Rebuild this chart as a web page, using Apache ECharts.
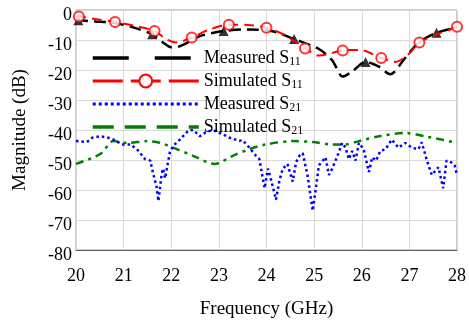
<!DOCTYPE html>
<html><head><meta charset="utf-8">
<script src="https://cdn.jsdelivr.net/npm/echarts@6/dist/echarts.min.js"></script>
<style>html,body{margin:0;padding:0;background:#fff}#c{width:469px;height:324px}</style>
</head><body><div id="c"></div>
<script>
// Measured S11 (black dashed)
const measS11X = [20, 20.05, 20.4, 20.8, 21.2, 21.6, 21.8, 22.0, 22.15, 22.35, 22.6, 23.1, 23.6, 24.1, 24.58, 25.1, 25.38, 25.6, 25.8, 26.08, 26.36, 26.6, 26.9, 27.2, 27.57, 28];
const measS11Y = [-3.2, -3.4, -3.8, -4.3, -5.8, -8.1, -10.5, -12.4, -12.2, -10.8, -8.7, -7.0, -6.5, -7.0, -9.7, -13, -16.8, -22.2, -20.5, -17.3, -18.9, -21.4, -16.2, -10.8, -7.6, -5.9];
// Measured S11 triangle markers
const measS11MkX = [20.05, 21.6, 23.1, 24.58, 26.08, 27.57];
const measS11MkY = [-3.4, -8.1, -7.0, -9.7, -17.3, -7.6];
// Simulated S11 (red dashed)
const simS11X = [20.0, 20.4, 20.82, 21.2, 21.65, 21.9, 22.1, 22.43, 22.8, 23.21, 23.6, 24.0, 24.4, 24.81, 25.1, 25.6, 25.95, 26.41, 26.7, 27.0, 27.21, 27.6, 28];
const simS11Y = [-2.0, -3.0, -4.0, -5.2, -7.0, -9.8, -10.8, -9.2, -6.5, -4.9, -5.0, -5.9, -8.5, -12.8, -15.2, -13.5, -13.3, -16.0, -17.3, -14.5, -10.8, -8.0, -5.6];
// Simulated S11 circle markers
const simS11MkX = [20.06, 20.82, 21.65, 22.43, 23.21, 24.0, 24.81, 25.6, 26.41, 27.21, 28.0];
const simS11MkY = [-2.2, -4.0, -7.0, -9.2, -4.9, -5.9, -12.8, -13.5, -16.0, -10.8, -5.6];
// Measured S21 (blue dotted)
const measS21X = [20.0, 20.23, 20.34, 20.51, 20.68, 20.82, 20.96, 21.14, 21.28, 21.45, 21.56, 21.62, 21.69, 21.73, 21.8, 21.83, 21.87, 21.9, 21.97, 22.04, 22.18, 22.36, 22.46, 22.6, 22.74, 22.88, 23.02, 23.23, 23.43, 23.5, 23.64, 23.78, 23.85, 23.96, 24.03, 24.07, 24.2, 24.27, 24.34, 24.44, 24.55, 24.62, 24.69, 24.76, 24.86, 24.97, 25.04, 25.1, 25.24, 25.31, 25.38, 25.49, 25.59, 25.66, 25.73, 25.8, 25.87, 25.94, 26.04, 26.15, 26.22, 26.3, 26.39, 26.5, 26.63, 26.77, 26.91, 27.05, 27.19, 27.26, 27.36, 27.47, 27.61, 27.71, 27.78, 27.88, 27.95, 28.0];
const measS21Y = [-43.7, -44, -42.6, -42.1, -42.6, -43.4, -44.8, -44.8, -46.4, -49.7, -50.2, -54.5, -58.8, -63.7, -54.5, -52.9, -56.1, -53.5, -47.5, -45.3, -43.2, -40.2, -40, -42.1, -40.6, -40, -41, -42.6, -43.6, -43.4, -45.9, -48.6, -49.7, -59.4, -52.9, -55, -63.2, -57, -52.9, -51.3, -57.2, -50.8, -48.6, -47.7, -55, -66.9, -59, -51.8, -49.1, -55, -52.9, -48.6, -44.3, -45.9, -49.7, -47, -50.2, -44.3, -46.4, -54, -49.1, -50.2, -47, -46.4, -43.2, -45.9, -44.3, -45.9, -46.4, -44.1, -49.7, -55, -52.4, -59.4, -50.2, -50.8, -51.8, -55];
// Simulated S21 (green dash-dot)
const simS21X = [20.0, 20.51, 20.79, 21.07, 21.49, 21.77, 22.04, 22.46, 22.91, 23.29, 23.64, 23.99, 24.55, 24.97, 25.38, 25.66, 25.94, 26.36, 26.91, 27.33, 28.0];
const simS21Y = [-51.3, -48, -43.7, -44.3, -43.7, -44.3, -45.9, -48.6, -51.3, -48.6, -46.4, -44.8, -43.7, -44, -44.8, -44.8, -43.7, -42.1, -41, -42.1, -44.3];

const xTicks = [20, 21, 22, 23, 24, 25, 26, 27, 28];
const yTicks = [0, -10, -20, -30, -40, -50, -60, -70, -80];
const seriesNames = ['Measured S11', 'Simulated S11', 'Measured S21', 'Simulated S21'];

const pairs = (xs, ys) => xs.map((x, i) => [x, ys[i]]);
const FONT = 'Liberation Serif';

const chart = echarts.init(document.getElementById('c'), null, {renderer: 'canvas'});
chart.setOption({
  animation: false,
  backgroundColor: '#fff',
  grid: {left: 76, right: 10, top: 10, bottom: 67, show: true, borderColor: '#9a9a9a', borderWidth: 1, containLabel: false},
  xAxis: {
    type: 'value', min: xTicks[0], max: xTicks[xTicks.length - 1], interval: 1,
    name: 'Frequency (GHz)', nameLocation: 'middle', nameGap: 50,
    nameTextStyle: {fontFamily: FONT, fontSize: 19, color: '#000'},
    axisLine: {show: true, onZero: false, lineStyle: {color: '#606060', width: 1}}, axisTick: {show: false},
    axisLabel: {fontFamily: FONT, fontSize: 18, color: '#000', margin: 17},
    splitLine: {show: true, lineStyle: {color: '#d9d9d9', width: 1}}
  },
  yAxis: {
    type: 'value', min: yTicks[yTicks.length - 1], max: yTicks[0], interval: 10,
    name: 'Magnitude (dB)', nameLocation: 'middle', nameGap: 46,
    nameTextStyle: {fontFamily: FONT, fontSize: 19, color: '#000'},
    axisLine: {show: false}, axisTick: {show: false},
    axisLabel: {fontFamily: FONT, fontSize: 18, color: '#000', margin: 4, verticalAlign: 'top', lineHeight: 10},
    splitLine: {show: true, lineStyle: {color: '#d9d9d9', width: 1}}
  },
  legend: {
    orient: 'vertical', left: 86, top: 43, itemWidth: 106, itemHeight: 16, itemGap: 3,
    data: [
      {name: seriesNames[0], itemStyle: {opacity: 0}, lineStyle: {type: [36, 26], width: 3.5}},
      {name: seriesNames[1], lineStyle: {type: [30, 8], width: 3}},
      {name: seriesNames[2], itemStyle: {opacity: 0}, lineStyle: {type: [3, 3], width: 3}},
      {name: seriesNames[3], itemStyle: {opacity: 0}, lineStyle: {type: [21, 11], width: 3.5}}
    ],
    formatter: n => n.replace(/S(\d+)$/, 'S{sub|$1}'),
    textStyle: {fontFamily: FONT, fontSize: 18, color: '#000', lineHeight: 20,
      rich: {sub: {fontFamily: FONT, fontSize: 12, color: '#000', lineHeight: 12, verticalAlign: 'bottom'}}}
  },
  series: [
    {name: seriesNames[0], type: 'line', data: pairs(measS11X, measS11Y), symbol: 'none', smooth: 0.3,
     lineStyle: {color: '#000', width: 2.5, type: [12, 6]}, itemStyle: {color: '#000'}, z: 3},
    {name: 'mS11mk', type: 'scatter', data: pairs(measS11MkX, measS11MkY), symbol: 'triangle', symbolSize: 10,
     itemStyle: {color: '#000'}, z: 4},
    {name: seriesNames[1], type: 'line', data: pairs(simS11X, simS11Y), symbol: 'emptyCircle', showSymbol: false, smooth: 0.3,
     lineStyle: {color: '#ff0000', width: 2, type: [10, 6]}, itemStyle: {color: '#ff0000'}, z: 5},
    {name: 'sS11mk', type: 'scatter', data: pairs(simS11MkX, simS11MkY), symbol: 'emptyCircle', symbolSize: 10,
     itemStyle: {color: '#ff0000', borderWidth: 1.8}, z: 6},
    {name: seriesNames[2], type: 'line', data: pairs(measS21X, measS21Y), symbol: 'none',
     lineStyle: {color: '#0000ff', width: 2.5, type: [2.5, 3]}, itemStyle: {color: '#0000ff'}, z: 3},
    {name: seriesNames[3], type: 'line', data: pairs(simS21X, simS21Y), symbol: 'none', smooth: 0.3,
     lineStyle: {color: '#008000', width: 2.5, type: [8, 5, 3, 5]}, itemStyle: {color: '#008000'}, z: 2}
  ]
});
</script></body></html>
